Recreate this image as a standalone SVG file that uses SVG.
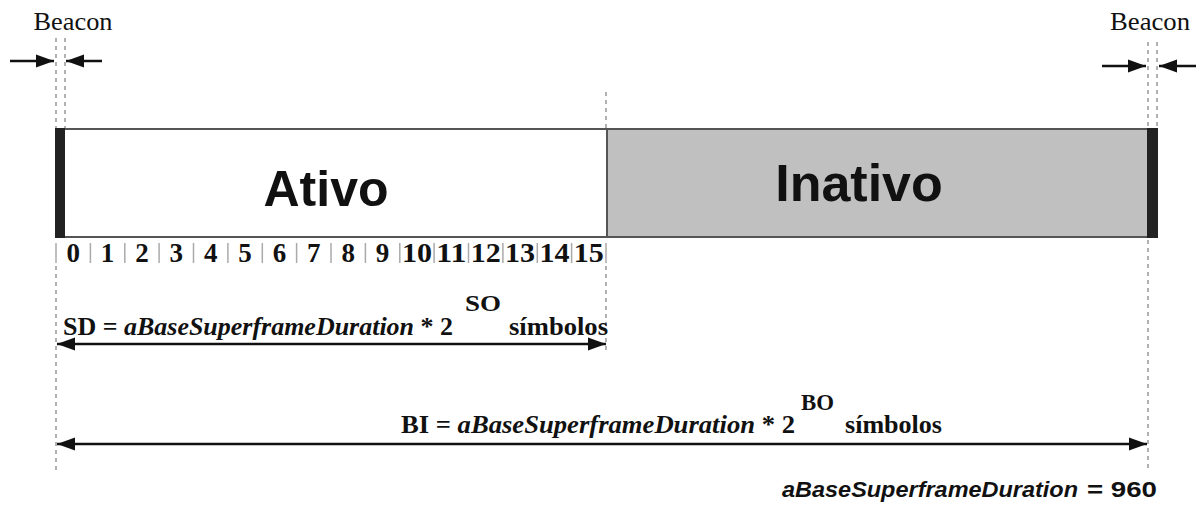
<svg xmlns="http://www.w3.org/2000/svg" width="1202" height="507" viewBox="0 0 1202 507">
  <style>
    .serif { font-family: "Liberation Serif", "Times New Roman", serif; fill: #111; }
    .sans { font-family: "Liberation Sans", Arial, sans-serif; fill: #111; }
    .b { font-weight: bold; }
    .i { font-style: italic; }
    .guide { stroke: #888; stroke-width: 1.3; stroke-dasharray: 4 4; fill: none; }
    .arrow { stroke: #111; stroke-width: 2.4; fill: none; marker-end: url(#head); }
    .dbl { marker-start: url(#tail); }
    .sep { stroke: #aaa; stroke-width: 1.5; }
    .digit { font-size: 27px; text-anchor: middle; }
  </style>
  <defs>
    <marker id="head" markerUnits="userSpaceOnUse" markerWidth="19" markerHeight="15" refX="18" refY="7.5" orient="auto">
      <path d="M0,1 L18,7.5 L0,14 z" fill="#111"/>
    </marker>
    <marker id="tail" markerUnits="userSpaceOnUse" markerWidth="19" markerHeight="15" refX="0" refY="7.5" orient="auto">
      <path d="M18,1 L0,7.5 L18,14 z" fill="#111"/>
    </marker>
  </defs>

  <!-- dashed guide lines -->
  <g id="guides">
    <line class="guide" x1="56" y1="38" x2="56" y2="128"/>
    <line class="guide" x1="65" y1="38" x2="65" y2="128"/>
    <line class="guide" x1="1148" y1="42" x2="1148" y2="128"/>
    <line class="guide" x1="1157" y1="42" x2="1157" y2="128"/>
    <line class="guide" x1="606" y1="92" x2="606" y2="128"/>
    <line class="guide" x1="606" y1="266" x2="606" y2="352"/>
    <line class="guide" x1="56" y1="266" x2="56" y2="470"/>
    <line class="guide" x1="1148" y1="240" x2="1148" y2="472"/>
  </g>

  <!-- superframe: active and inactive portions -->
  <g id="active">
    <rect x="60" y="129" width="547" height="108" fill="#fff" stroke="#555" stroke-width="2"/>
    <text class="sans b" x="326" y="206" font-size="50" text-anchor="middle">Ativo</text>
  </g>
  <g id="inactive">
    <rect x="607" y="129" width="545" height="108" fill="#c0c0c0" stroke="#555" stroke-width="2"/>
    <text class="sans b" x="859" y="201" font-size="52" text-anchor="middle">Inativo</text>
  </g>
  <g id="beacon-bars">
    <rect x="55" y="128" width="10" height="110" fill="#222"/>
    <rect x="1147" y="128" width="11" height="110" fill="#222"/>
  </g>

  <!-- slot numbers -->
  <g id="slots">
    <g class="sep">
      <line x1="56" y1="243" x2="56" y2="263"/>
      <line x1="90.4" y1="243" x2="90.4" y2="263"/>
      <line x1="124.8" y1="243" x2="124.8" y2="263"/>
      <line x1="159.1" y1="243" x2="159.1" y2="263"/>
      <line x1="193.5" y1="243" x2="193.5" y2="263"/>
      <line x1="227.9" y1="243" x2="227.9" y2="263"/>
      <line x1="262.3" y1="243" x2="262.3" y2="263"/>
      <line x1="296.6" y1="243" x2="296.6" y2="263"/>
      <line x1="331" y1="243" x2="331" y2="263"/>
      <line x1="365.4" y1="243" x2="365.4" y2="263"/>
      <line x1="399.8" y1="243" x2="399.8" y2="263"/>
      <line x1="434.1" y1="243" x2="434.1" y2="263"/>
      <line x1="468.5" y1="243" x2="468.5" y2="263"/>
      <line x1="502.9" y1="243" x2="502.9" y2="263"/>
      <line x1="537.3" y1="243" x2="537.3" y2="263"/>
      <line x1="571.6" y1="243" x2="571.6" y2="263"/>
      <line x1="606" y1="243" x2="606" y2="263"/>
    </g>
    <g class="serif b digit">
      <text x="73.2" y="262">0</text>
      <text x="107.6" y="262">1</text>
      <text x="142" y="262">2</text>
      <text x="176.3" y="262">3</text>
      <text x="210.7" y="262">4</text>
      <text x="245.1" y="262">5</text>
      <text x="279.5" y="262">6</text>
      <text x="313.8" y="262">7</text>
      <text x="348.2" y="262">8</text>
      <text x="382.6" y="262">9</text>
      <text x="417" y="262" textLength="30" lengthAdjust="spacingAndGlyphs">10</text>
      <text x="451.3" y="262" textLength="30" lengthAdjust="spacingAndGlyphs">11</text>
      <text x="485.7" y="262" textLength="30" lengthAdjust="spacingAndGlyphs">12</text>
      <text x="520.1" y="262" textLength="30" lengthAdjust="spacingAndGlyphs">13</text>
      <text x="554.5" y="262" textLength="30" lengthAdjust="spacingAndGlyphs">14</text>
      <text x="588.8" y="262" textLength="30" lengthAdjust="spacingAndGlyphs">15</text>
    </g>
  </g>

  <!-- labels -->
  <g id="beacon-left">
    <text class="serif" x="73" y="30" font-size="25" text-anchor="middle" textLength="79" lengthAdjust="spacingAndGlyphs">Beacon</text>
  </g>
  <g id="beacon-right">
    <text class="serif" x="1150" y="30" font-size="25" text-anchor="middle" textLength="80" lengthAdjust="spacingAndGlyphs">Beacon</text>
  </g>
  <g id="sd-label">
    <text class="serif b" x="63" y="335" font-size="26" textLength="390" lengthAdjust="spacingAndGlyphs">SD = <tspan class="i">aBaseSuperframeDuration</tspan> * 2</text>
    <text class="serif b" x="465" y="311" font-size="24" textLength="36" lengthAdjust="spacingAndGlyphs">SO</text>
    <text class="serif b" x="509" y="335" font-size="26" textLength="99" lengthAdjust="spacingAndGlyphs">símbolos</text>
  </g>
  <g id="bi-label">
    <text class="serif b" x="401" y="433" font-size="26" textLength="394" lengthAdjust="spacingAndGlyphs">BI = <tspan class="i">aBaseSuperframeDuration</tspan> * 2</text>
    <text class="serif b" x="801" y="410" font-size="24" textLength="33" lengthAdjust="spacingAndGlyphs">BO</text>
    <text class="serif b" x="845" y="433" font-size="26" textLength="97" lengthAdjust="spacingAndGlyphs">símbolos</text>
  </g>
  <g id="constant">
    <text class="sans b i" x="782" y="497" font-size="22" textLength="296" lengthAdjust="spacingAndGlyphs">aBaseSuperframeDuration</text>
    <text class="sans b" x="1087" y="497" font-size="22" textLength="70" lengthAdjust="spacingAndGlyphs">= 960</text>
  </g>

  <!-- connectors -->
  <g id="connectors">
    <line class="arrow" x1="10" y1="61" x2="54" y2="61"/>
    <line class="arrow" x1="102" y1="61" x2="66" y2="61"/>
    <line class="arrow" x1="1102" y1="66" x2="1146" y2="66"/>
    <line class="arrow" x1="1196" y1="66" x2="1159" y2="66"/>
    <line class="arrow dbl" x1="57" y1="344" x2="606" y2="344"/>
    <line class="arrow dbl" x1="57" y1="444" x2="1147" y2="444"/>
  </g>
</svg>
